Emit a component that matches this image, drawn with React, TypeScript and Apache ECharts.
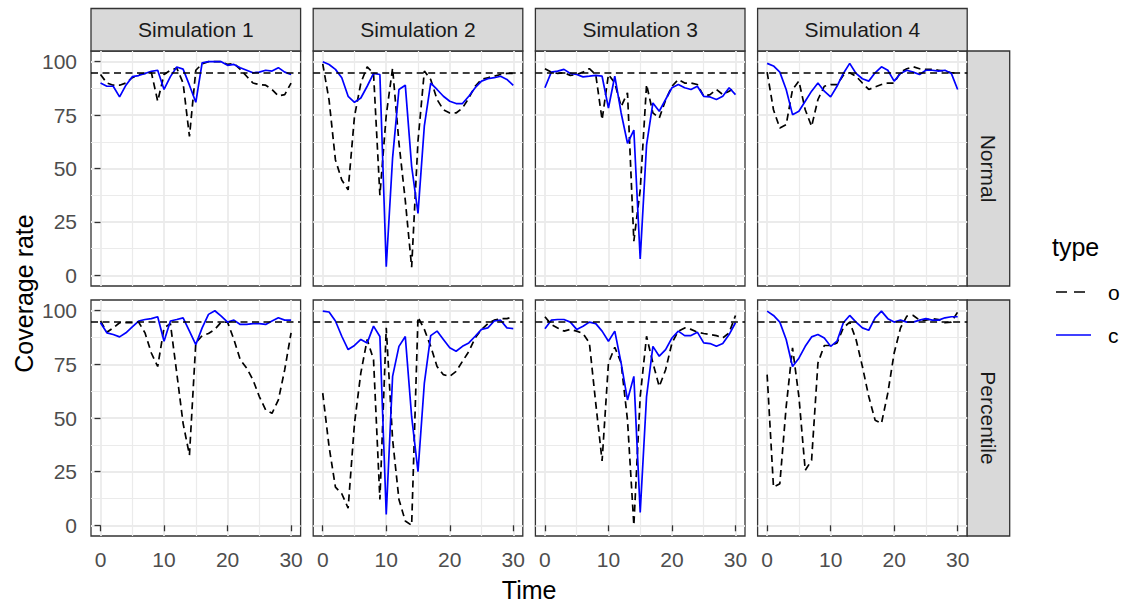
import React, { useEffect, useRef } from "react";
import * as echarts from "echarts";

// ---- data -------------------------------------------------------------
const TIME = [0, 1, 2, 3, 4, 5, 6, 7, 8, 9, 10, 11, 12, 13, 14, 15, 16, 17, 18, 19, 20, 21, 22, 23, 24, 25, 26, 27, 28, 29, 30];

const SIMULATIONS = ["Simulation 1", "Simulation 2", "Simulation 3", "Simulation 4"];
const METHODS = ["Normal", "Percentile"];
const TYPE_LABELS = ["o", "c"];
const TARGET_COVERAGE = 95;

const X_BREAKS = [0, 10, 20, 30];
const X_MINOR_BREAKS = [5, 15, 25];
const Y_BREAKS = [0, 25, 50, 75, 100];
const Y_MINOR_BREAKS = [12.5, 37.5, 62.5, 87.5];

// Normal intervals
const NORMAL_O_SIM1 = [94, 90, 89, 89, 90, 92.5, 94, 94.5, 95, 81.5, 94, 96, 97, 90, 65, 96, 99, 100, 100, 100, 98.7, 99.2, 96.4, 93.2, 90, 89.3, 89, 87, 84, 84.6, 90];
const NORMAL_C_SIM1 = [90, 88.5, 88.5, 83.5, 89, 93, 93.5, 94.5, 95.5, 96, 87, 93, 97.5, 96.5, 89, 81, 99.5, 100, 100, 100, 98.3, 98.7, 97.2, 96, 94.8, 95.1, 96, 95.6, 97.2, 95.1, 94];
const NORMAL_O_SIM2 = [99, 82, 54, 44.6, 40, 74.4, 90, 97.6, 94.5, 37.5, 75, 97, 62, 35, 3.8, 63, 95.6, 91.7, 82.3, 77.5, 76, 76, 78.3, 83, 88.5, 91.7, 92.5, 93.2, 94, 94.5, 94.5];
const NORMAL_C_SIM2 = [100, 98.7, 96.4, 92.5, 83.8, 81, 83, 88.5, 94.5, 94, 4, 55, 87, 89, 51, 29, 70, 90, 87, 83.8, 81.5, 80.4, 80.4, 83.8, 87.8, 90.9, 92, 92.5, 93.2, 91.7, 88.9];
const NORMAL_O_SIM3 = [96.7, 95.1, 94.5, 94.8, 93.6, 94, 95.1, 96.7, 94, 72.8, 94, 90, 79, 85.4, 16, 40, 89.3, 76, 73.6, 82, 88.5, 91.7, 90, 90, 89.3, 83.8, 84.6, 87, 84.6, 86.2, 87.8];
const NORMAL_C_SIM3 = [87.8, 95.1, 95.6, 96.4, 94.5, 94, 92.9, 93.2, 93.6, 93.2, 78.3, 93.2, 76, 61.8, 68, 7.7, 61, 80.7, 76.8, 82.3, 87.8, 89.3, 87.8, 87, 88.5, 83.8, 83.5, 82.3, 83.8, 87.8, 84.6];
const NORMAL_O_SIM4 = [95.1, 77.5, 68.9, 70.5, 87, 90.9, 77.5, 69.7, 82.3, 88.5, 89.3, 89.3, 93.6, 94.8, 93.2, 90, 87, 88.2, 89.3, 90, 90, 95.1, 96.7, 97.6, 96.7, 96.4, 96.4, 96, 95.6, 94.8, 94.8];
const NORMAL_C_SIM4 = [99.2, 98, 95.1, 87, 75.2, 76.8, 81.5, 86.2, 90, 86.2, 83.5, 88.5, 94.5, 99.2, 94.5, 92, 90.9, 94.8, 97.6, 96, 90.9, 94.5, 96, 95.1, 94, 96, 96, 95.6, 96, 94.5, 87];

// Percentile intervals
const PERCENTILE_O_SIM1 = [95.2, 90, 92, 94.4, 94.4, 94.4, 94.7, 89.7, 80.3, 74, 92, 94, 71, 47.5, 32.7, 85, 88.4, 89.4, 91.3, 94.7, 94.7, 86.6, 77.2, 73.3, 67.8, 60, 53.8, 52.2, 58.4, 72.5, 89.7];
const PERCENTILE_C_SIM1 = [94.4, 89.7, 88.9, 87.8, 89.7, 92.5, 95.2, 95.9, 96.3, 97.2, 85.8, 95.2, 95.9, 96.7, 90.5, 84.2, 92, 98.3, 100, 97.5, 94.7, 95.6, 93.6, 93.6, 94, 94, 93.6, 95.2, 96.7, 95.6, 95.6];
const PERCENTILE_O_SIM2 = [61.6, 36.6, 17.8, 14.7, 8, 47.5, 71, 86.6, 77.2, 12, 92, 40, 12, 2, 0, 97, 91.3, 83.4, 74, 70.2, 69.4, 71.7, 76.4, 81, 87.3, 91.3, 94, 95.6, 96.3, 96.3, 97.2];
const PERCENTILE_C_SIM2 = [99.8, 99.4, 95.2, 88.1, 81.9, 83.8, 86.6, 85, 92.8, 88, 5, 69.4, 83.4, 88, 50.6, 25, 66.3, 88.4, 90.5, 86.6, 82.7, 81.1, 83.4, 85, 88.1, 91.3, 92, 95.2, 95.6, 92, 91.7];
const PERCENTILE_O_SIM3 = [97.2, 93.6, 92, 90.5, 91.3, 90.5, 89.4, 85, 56.9, 30, 75.6, 83, 75.6, 49, 0, 60, 88.1, 75.6, 64.7, 72.5, 85, 90.5, 92, 91.3, 90, 89.4, 88.9, 88.4, 87.3, 89.7, 97.8];
const PERCENTILE_C_SIM3 = [91.6, 95.6, 95.9, 95.9, 94.7, 91.3, 92.8, 94.7, 94, 90.5, 85.8, 90.5, 75.6, 58.4, 69.4, 6, 60, 83.4, 78.8, 81.9, 87.3, 90.5, 88.4, 88.4, 90, 85, 84.7, 83.4, 84.7, 88.9, 94.4];
const PERCENTILE_O_SIM4 = [70.2, 17.8, 19.4, 55.3, 82.7, 60, 25.6, 30.3, 75.6, 83.8, 83.8, 85, 92, 94.7, 86.6, 74, 60, 49, 47.5, 61.6, 80.3, 92, 97.5, 97.8, 95.6, 95.6, 96.3, 95.9, 94.4, 94.7, 99.4];
const PERCENTILE_C_SIM4 = [99.8, 97.8, 94.7, 86.6, 74, 77.9, 83.4, 87.8, 88.9, 87.3, 83.4, 85.8, 94.4, 97.8, 94.7, 92, 90.9, 96.7, 99.8, 96.3, 94.7, 95.6, 94.7, 94.7, 95.6, 96.3, 95.6, 95.6, 96.7, 97.2, 97.2];

// rows follow METHODS, columns follow SIMULATIONS
const OBSERVED = [
  [NORMAL_O_SIM1, NORMAL_O_SIM2, NORMAL_O_SIM3, NORMAL_O_SIM4],
  [PERCENTILE_O_SIM1, PERCENTILE_O_SIM2, PERCENTILE_O_SIM3, PERCENTILE_O_SIM4],
];
const CORRECTED = [
  [NORMAL_C_SIM1, NORMAL_C_SIM2, NORMAL_C_SIM3, NORMAL_C_SIM4],
  [PERCENTILE_C_SIM1, PERCENTILE_C_SIM2, PERCENTILE_C_SIM3, PERCENTILE_C_SIM4],
];

// ---- layout -----------------------------------------------------------
const FONT = '"Liberation Sans", Arial, sans-serif';
const PANEL_LEFT = [91, 313.2, 535.4, 757.6];
const PANEL_WIDTH = 209.6;
const PANEL_TOP = [51, 300];
const PANEL_HEIGHT = [235, 236];
const STRIP = 42.5;
const X_RANGE = [-1.5, 31.5];
const Y_RANGE = [-5, 105];
const DASH = [7, 4.5];
const LINE_W = 1.7;

function makeAxis(g: number, dim: "x" | "y", breaks: number[], showLabels: boolean, major: boolean) {
  const isX = dim === "x";
  return {
    type: "value",
    gridIndex: g,
    position: isX ? "bottom" : "left",
    min: isX ? X_RANGE[0] : Y_RANGE[0],
    max: isX ? X_RANGE[1] : Y_RANGE[1],
    axisLine: { show: false },
    axisTick: {
      show: showLabels,
      customValues: breaks,
      length: 6,
      lineStyle: { color: "#333333", width: 1.3 },
    },
    axisLabel: {
      show: showLabels,
      customValues: breaks,
      margin: isX ? 13 : 14,
      color: "#4D4D4D",
      fontSize: 21,
      fontFamily: FONT,
    },
    splitLine: { show: true, lineStyle: { color: "#EBEBEB", width: major ? 1.8 : 1.2 } },
  };
}

function buildOption() {
  const grid: any[] = [];
  const xAxis: any[] = [];
  const yAxis: any[] = [];
  const series: any[] = [];
  const graphic: any[] = [];

  METHODS.forEach((method, r) => {
    SIMULATIONS.forEach((sim, c) => {
      const g = r * SIMULATIONS.length + c;
      grid.push({
        left: PANEL_LEFT[c],
        top: PANEL_TOP[r],
        width: PANEL_WIDTH,
        height: PANEL_HEIGHT[r],
        show: true,
        backgroundColor: "#FFFFFF",
        borderColor: "#333333",
        borderWidth: 1.3,
      });
      const bottomRow = r === METHODS.length - 1;
      const leftCol = c === 0;
      xAxis.push(makeAxis(g, "x", X_BREAKS, bottomRow, true));
      xAxis.push(makeAxis(g, "x", X_MINOR_BREAKS, false, false));
      yAxis.push(makeAxis(g, "y", Y_BREAKS, leftCol, true));
      yAxis.push(makeAxis(g, "y", Y_MINOR_BREAKS, false, false));

      series.push({
        type: "line",
        name: TYPE_LABELS[0],
        xAxisIndex: 2 * g,
        yAxisIndex: 2 * g,
        data: TIME.map((t, i) => [t, OBSERVED[r][c][i]]),
        showSymbol: false,
        symbol: "none",
        silent: true,
        z: 3,
        lineStyle: { color: "#000000", width: LINE_W, type: DASH },
        markLine: {
          silent: true,
          symbol: ["none", "none"],
          label: { show: false },
          lineStyle: { color: "#000000", width: LINE_W, type: DASH },
          data: [{ yAxis: TARGET_COVERAGE }],
        },
      });
      series.push({
        type: "line",
        name: TYPE_LABELS[1],
        xAxisIndex: 2 * g,
        yAxisIndex: 2 * g,
        data: TIME.map((t, i) => [t, CORRECTED[r][c][i]]),
        showSymbol: false,
        symbol: "none",
        silent: true,
        z: 4,
        lineStyle: { color: "#0000FF", width: LINE_W, type: "solid" },
      });
    });
  });

  // facet strips along the top
  SIMULATIONS.forEach((sim, c) => {
    graphic.push({
      type: "rect",
      shape: { x: PANEL_LEFT[c], y: PANEL_TOP[0] - STRIP, width: PANEL_WIDTH, height: STRIP },
      style: { fill: "#D9D9D9", stroke: "#333333", lineWidth: 1.3 },
    });
    graphic.push({
      type: "text",
      x: PANEL_LEFT[c] + PANEL_WIDTH / 2,
      y: PANEL_TOP[0] - STRIP / 2,
      style: { text: sim, fill: "#1A1A1A", font: `21px ${FONT}`, textAlign: "center", textVerticalAlign: "middle" },
    });
  });

  // facet strips on the right
  const stripX = PANEL_LEFT[PANEL_LEFT.length - 1] + PANEL_WIDTH;
  METHODS.forEach((method, r) => {
    graphic.push({
      type: "rect",
      shape: { x: stripX, y: PANEL_TOP[r], width: STRIP, height: PANEL_HEIGHT[r] },
      style: { fill: "#D9D9D9", stroke: "#333333", lineWidth: 1.3 },
    });
    graphic.push({
      type: "text",
      x: stripX + STRIP / 2,
      y: PANEL_TOP[r] + PANEL_HEIGHT[r] / 2,
      rotation: -Math.PI / 2,
      style: { text: method, fill: "#1A1A1A", font: `21px ${FONT}`, textAlign: "center", textVerticalAlign: "middle" },
    });
  });

  // axis titles
  graphic.push({
    type: "text",
    x: (PANEL_LEFT[0] + stripX) / 2,
    y: 590,
    style: { text: "Time", fill: "#000000", font: `25px ${FONT}`, textAlign: "center", textVerticalAlign: "middle" },
  });
  graphic.push({
    type: "text",
    x: 24,
    y: (PANEL_TOP[0] + PANEL_TOP[1] + PANEL_HEIGHT[1]) / 2,
    rotation: Math.PI / 2,
    style: { text: "Coverage rate", fill: "#000000", font: `25px ${FONT}`, textAlign: "center", textVerticalAlign: "middle" },
  });

  // legend
  graphic.push({
    type: "text",
    x: 1052,
    y: 247,
    style: { text: "type", fill: "#000000", font: `25px ${FONT}`, textAlign: "left", textVerticalAlign: "middle" },
  });
  const legendRows = [
    { label: TYPE_LABELS[0], y: 292, color: "#000000", dash: [11, 7] },
    { label: TYPE_LABELS[1], y: 335, color: "#0000FF", dash: null },
  ];
  legendRows.forEach((row) => {
    graphic.push({
      type: "line",
      shape: { x1: 1056, y1: row.y, x2: 1091, y2: row.y },
      style: { stroke: row.color, lineWidth: LINE_W, lineDash: row.dash },
    });
    graphic.push({
      type: "text",
      x: 1108,
      y: row.y,
      style: { text: row.label, fill: "#000000", font: `21px ${FONT}`, textAlign: "left", textVerticalAlign: "middle" },
    });
  });

  return {
    animation: false,
    backgroundColor: "#FFFFFF",
    grid,
    xAxis,
    yAxis,
    series,
    graphic,
  };
}

export default function App() {
  const ref = useRef<HTMLDivElement>(null);
  useEffect(() => {
    if (!ref.current) return;
    const chart = echarts.init(ref.current, null, { renderer: "svg" });
    chart.setOption(buildOption() as any);
    return () => chart.dispose();
  }, []);
  return (
    <div
      ref={ref}
      style={{ position: "absolute", left: 0, top: 0, width: 1126, height: 605, background: "#FFFFFF" }}
    />
  );
}
